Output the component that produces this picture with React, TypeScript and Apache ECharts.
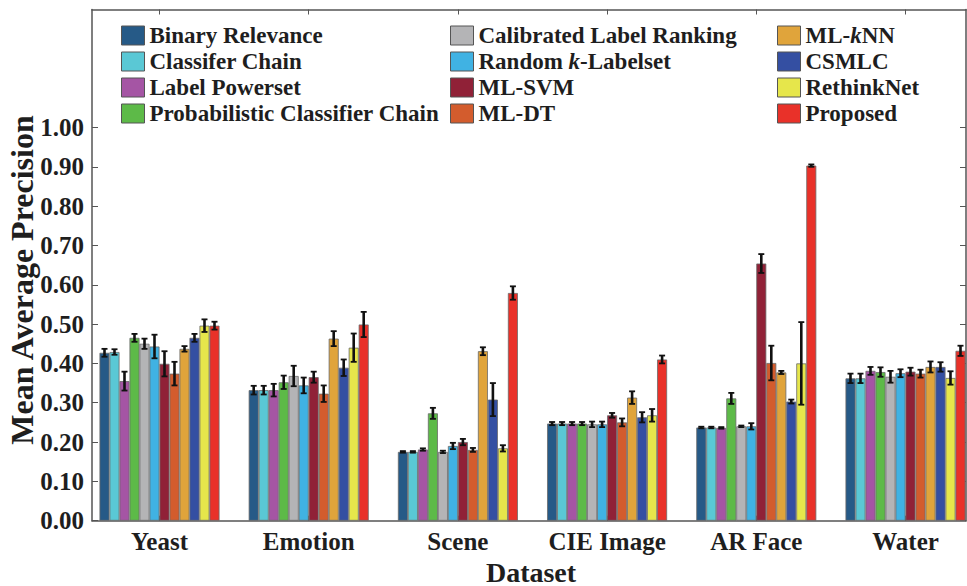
import React, { useEffect, useRef } from "react";
import * as echarts from "echarts";

const categories = ["Yeast", "Emotion", "Scene", "CIE Image", "AR Face", "Water"];
const categoryPositions = [0, 1, 2, 3, 4, 5];
const yTickValues = [0, 0.1, 0.2, 0.3, 0.4, 0.5, 0.6, 0.7, 0.8, 0.9, 1.0];

const methods = [
  "Binary Relevance",
  "Classifer Chain",
  "Label Powerset",
  "Probabilistic Classifier Chain",
  "Calibrated Label Ranking",
  "Random k-Labelset",
  "ML-SVM",
  "ML-DT",
  "ML-kNN",
  "CSMLC",
  "RethinkNet",
  "Proposed",
];

const colors = [
  "#265a87", "#5ac8d5", "#a555a4", "#5dba48",
  "#b4b4b6", "#40b2e3", "#902137", "#d35c2d",
  "#e0a43b", "#344fa2", "#e6e64b", "#e93129",
];

// Mean average precision per dataset (Yeast, Emotion, Scene, CIE Image, AR Face, Water)
const brValues = [0.427, 0.332, 0.175, 0.247, 0.237, 0.362];
const ccValues = [0.429, 0.332, 0.175, 0.247, 0.237, 0.362];
const lpValues = [0.355, 0.332, 0.181, 0.247, 0.236, 0.381];
const pccValues = [0.465, 0.352, 0.273, 0.247, 0.311, 0.378];
const clrValues = [0.45, 0.368, 0.175, 0.245, 0.24, 0.366];
const rklValues = [0.443, 0.344, 0.19, 0.245, 0.24, 0.375];
const svmValues = [0.399, 0.365, 0.2, 0.268, 0.654, 0.379];
const dtValues = [0.374, 0.323, 0.18, 0.25, 0.401, 0.374];
const knnValues = [0.437, 0.463, 0.431, 0.313, 0.377, 0.391];
const csmlcValues = [0.465, 0.389, 0.308, 0.263, 0.303, 0.391];
const rethinkValues = [0.496, 0.44, 0.184, 0.268, 0.4, 0.363];
const proposedValues = [0.496, 0.499, 0.579, 0.41, 0.903, 0.432];

// Error bar half-widths (standard deviation)
const brErr = [0.01, 0.011, 0.002, 0.004, 0.002, 0.012];
const ccErr = [0.007, 0.011, 0.002, 0.004, 0.002, 0.012];
const lpErr = [0.024, 0.016, 0.003, 0.004, 0.002, 0.01];
const pccErr = [0.01, 0.017, 0.014, 0.004, 0.014, 0.012];
const clrErr = [0.013, 0.026, 0.003, 0.007, 0.002, 0.015];
const rklErr = [0.03, 0.02, 0.008, 0.007, 0.008, 0.01];
const svmErr = [0.032, 0.014, 0.008, 0.006, 0.024, 0.01];
const dtErr = [0.03, 0.021, 0.005, 0.01, 0.044, 0.01];
const knnErr = [0.007, 0.019, 0.01, 0.016, 0.004, 0.014];
const csmlcErr = [0.01, 0.021, 0.042, 0.013, 0.005, 0.012];
const rethinkErr = [0.016, 0.036, 0.008, 0.016, 0.105, 0.017];
const proposedErr = [0.01, 0.032, 0.017, 0.01, 0.003, 0.013];

const allValues = [
  brValues, ccValues, lpValues, pccValues, clrValues, rklValues,
  svmValues, dtValues, knnValues, csmlcValues, rethinkValues, proposedValues,
];
const allErrors = [
  brErr, ccErr, lpErr, pccErr, clrErr, rklErr,
  svmErr, dtErr, knnErr, csmlcErr, rethinkErr, proposedErr,
];

const FONT = "Liberation Serif";
const TEXT_COLOR = "#1e1e1e";
const AXIS_COLOR = "#555";
const BAR_W = 10;

export default function App() {
  const ref = useRef<HTMLDivElement>(null);

  useEffect(() => {
    if (!ref.current) return;
    const chart = echarts.init(ref.current, undefined, { renderer: "svg" });

    const barSeries = methods.map((name, s) => ({
      name,
      type: "bar",
      barWidth: BAR_W,
      barGap: "0%",
      itemStyle: { color: colors[s], borderColor: "#6a6a6a", borderWidth: 0.8 },
      data: allValues[s].map((v, c) => [categoryPositions[c], v]),
      z: 2,
    }));

    const errData: number[][] = [];
    allValues.forEach((vals, s) => {
      vals.forEach((v, c) => {
        errData.push([categoryPositions[c], s, v - allErrors[s][c], v + allErrors[s][c]]);
      });
    });

    const errorSeries = {
      name: "error",
      type: "custom",
      z: 5,
      encode: { x: 0, y: [2, 3] },
      data: errData,
      renderItem: (params: any, api: any) => {
        const cat = api.value(0);
        const s = api.value(1);
        const lo = api.value(2);
        const hi = api.value(3);
        const pLo = api.coord([cat, lo]);
        const pHi = api.coord([cat, hi]);
        const x = pLo[0] + (s - 5.5) * BAR_W;
        const cap = 3;
        const st = { stroke: "#111", lineWidth: 2.6 };
        const cst = { stroke: "#111", lineWidth: 1.8 };
        return {
          type: "group",
          children: [
            { type: "line", shape: { x1: x, y1: pLo[1], x2: x, y2: pHi[1] }, style: st },
            { type: "line", shape: { x1: x - cap, y1: pHi[1], x2: x + cap, y2: pHi[1] }, style: cst },
            { type: "line", shape: { x1: x - cap, y1: pLo[1], x2: x + cap, y2: pLo[1] }, style: cst },
          ],
        };
      },
    };

    const LEG_FS = 23;
    const legendText = {
      fontFamily: FONT,
      fontSize: LEG_FS,
      fontWeight: "bold",
      color: TEXT_COLOR,
      rich: {
        t: { fontFamily: FONT, fontSize: LEG_FS, fontWeight: "bold", color: TEXT_COLOR },
        it: { fontFamily: FONT, fontSize: LEG_FS, fontWeight: "bold", fontStyle: "italic", color: TEXT_COLOR },
      },
    };
    const legendFormatter = (name: string) => {
      if (name === "ML-kNN") return "{t|ML-}{it|k}{t|NN}";
      if (name === "Random k-Labelset") return "{t|Random }{it|k}{t|-Labelset}";
      return name;
    };
    const legendBase = {
      orient: "vertical",
      top: 19,
      padding: 5,
      itemWidth: 23,
      itemHeight: 19,
      itemGap: 3,
      icon: "rect",
      itemStyle: { borderColor: "#555", borderWidth: 1 },
      textStyle: legendText,
      formatter: legendFormatter,
      selectedMode: false,
    };

    const xMin = -0.4524;
    const xMax = 5.4055;

    const axisLineStyle = { show: true, onZero: false, lineStyle: { color: AXIS_COLOR, width: 1.5 } };

    const option: any = {
      animation: false,
      backgroundColor: "#ffffff",
      color: colors,
      grid: { left: 92, right: 1, top: 9.5, bottom: 65.3 },
      legend: [
        { ...legendBase, left: 116, data: methods.slice(0, 4) },
        { ...legendBase, left: 445, data: methods.slice(4, 8) },
        { ...legendBase, left: 772, data: methods.slice(8, 12) },
      ],
      xAxis: [
        {
          type: "value",
          position: "bottom",
          min: xMin,
          max: xMax,
          splitLine: { show: false },
          axisLine: axisLineStyle,
          axisTick: { show: true, inside: true, length: 5, customValues: categoryPositions, lineStyle: { color: AXIS_COLOR } },
          axisLabel: {
            customValues: categoryPositions,
            formatter: (v: number) => categories[Math.round(v)] ?? "",
            fontFamily: FONT,
            fontSize: 25,
            fontWeight: "bold",
            color: TEXT_COLOR,
            margin: 8,
          },
        },
        {
          type: "value",
          position: "top",
          min: xMin,
          max: xMax,
          splitLine: { show: false },
          axisLine: axisLineStyle,
          axisTick: { show: true, inside: true, length: 5, customValues: categoryPositions, lineStyle: { color: AXIS_COLOR } },
          axisLabel: { show: false },
        },
      ],
      yAxis: [
        {
          type: "value",
          min: 0,
          max: 1.3,
          splitLine: { show: false },
          axisLine: axisLineStyle,
          axisTick: { show: true, inside: true, length: 6, customValues: yTickValues, lineStyle: { color: AXIS_COLOR } },
          axisLabel: {
            customValues: yTickValues,
            formatter: (v: number) => v.toFixed(2),
            fontFamily: FONT,
            fontSize: 25,
            fontWeight: "bold",
            color: TEXT_COLOR,
            margin: 8,
          },
        },
        {
          type: "value",
          position: "right",
          min: 0,
          max: 1.3,
          splitLine: { show: false },
          axisLine: axisLineStyle,
          axisTick: { show: true, inside: true, length: 6, customValues: yTickValues, lineStyle: { color: AXIS_COLOR } },
          axisLabel: { show: false },
        },
      ],
      graphic: [
        {
          type: "text",
          x: 22,
          y: 280,
          rotation: Math.PI / 2,
          style: {
            text: "Mean Average Precision",
            fontFamily: FONT,
            fontSize: 32,
            fontWeight: "bold",
            fill: TEXT_COLOR,
            align: "center",
            verticalAlign: "middle",
          },
        },
        {
          type: "text",
          x: 531,
          y: 572,
          style: {
            text: "Dataset",
            fontFamily: FONT,
            fontSize: 28,
            fontWeight: "bold",
            fill: TEXT_COLOR,
            align: "center",
            verticalAlign: "middle",
          },
        },
      ],
      series: [...barSeries, errorSeries],
    };

    chart.setOption(option);
    return () => chart.dispose();
  }, []);

  return (
    <div
      ref={ref}
      style={{ position: "absolute", left: 0, top: 0, width: 967, height: 586, background: "#fff" }}
    />
  );
}
